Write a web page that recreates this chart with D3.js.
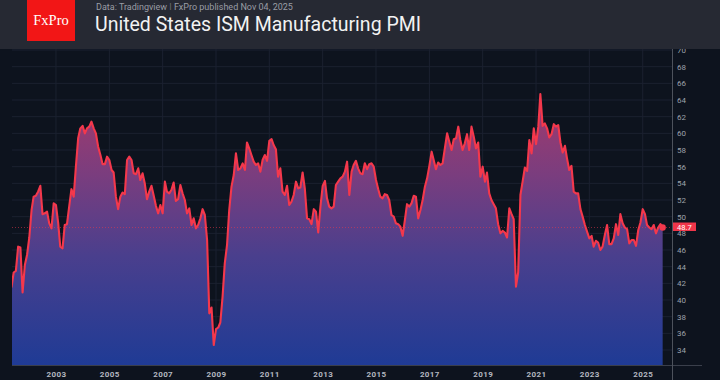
<!DOCTYPE html>
<html><head><meta charset="utf-8">
<script src="https://cdn.jsdelivr.net/npm/d3@7"></script>
<style>
html,body{margin:0;padding:0;background:#0d131e;}
svg{display:block;}
</style></head><body>
<svg id="chart" width="720" height="380"></svg>
<script>
// ---- data ----
const startYear = 2001, startMonthIndex = 4; // first value = May 2001
const pmiValues = [
  41.5, 43.3, 43.5, 46.4, 46.3, 40.9, 44.2, 45.4,                         // 2001 May-Dec
  47.5, 50.8, 52.4, 52.5, 53.0, 53.7, 50.3, 50.4, 50.6, 49.2, 48.6, 51.6, // 2002
  51.4, 49.2, 46.4, 46.2, 49.0, 49.1, 51.2, 53.3, 52.4, 56.0, 59.4, 60.6, // 2003
  60.9, 60.0, 60.6, 60.8, 61.4, 60.6, 60.0, 58.4, 57.4, 56.3, 56.3, 57.2, // 2004
  56.8, 55.6, 55.3, 52.4, 50.9, 52.4, 52.9, 52.7, 56.8, 57.2, 56.8, 55.2, // 2005
  55.1, 55.8, 54.4, 55.2, 54.0, 52.1, 53.0, 53.7, 52.5, 51.3, 50.4, 51.4, // 2006
  50.4, 54.2, 53.0, 52.8, 53.2, 54.1, 51.9, 52.1, 53.8, 52.8, 52.0, 50.4, // 2007
  51.0, 49.0, 49.8, 48.6, 49.0, 49.8, 50.9, 50.2, 47.2, 38.4, 39.1, 34.6, // 2008
  36.5, 36.7, 37.3, 40.4, 44.4, 46.6, 50.8, 53.6, 55.0, 57.6, 55.6, 55.8, // 2009
  56.4, 55.6, 58.9, 58.2, 57.4, 56.6, 56.2, 56.4, 55.4, 56.8, 57.4, 56.7, // 2010
  59.1, 59.3, 58.6, 58.1, 54.8, 55.8, 53.0, 52.6, 53.7, 51.4, 51.8, 52.6, // 2011
  54.2, 53.4, 53.5, 55.3, 53.4, 49.8, 49.7, 49.1, 50.9, 50.6, 48.1, 51.2, // 2012
  53.7, 54.3, 52.2, 51.2, 51.0, 51.2, 53.8, 54.2, 54.6, 54.8, 55.4, 56.6, // 2013
  52.6, 55.4, 56.2, 56.7, 55.8, 55.2, 55.1, 56.4, 55.7, 56.3, 56.4, 56.0, // 2014
  54.4, 53.3, 52.4, 52.2, 52.7, 52.6, 52.0, 50.2, 50.0, 49.2, 49.1, 48.8, // 2015
  47.7, 49.6, 51.5, 51.2, 51.6, 52.5, 52.4, 49.8, 50.8, 52.0, 53.6, 54.6, // 2016
  56.1, 57.8, 56.8, 55.7, 56.5, 56.2, 56.4, 58.2, 60.0, 59.0, 58.0, 59.3, // 2017
  59.4, 60.8, 59.2, 58.0, 58.8, 59.9, 58.0, 60.8, 59.6, 58.2, 58.9, 54.8, // 2018
  56.0, 54.2, 55.3, 52.8, 52.0, 51.5, 51.0, 49.1, 48.0, 48.3, 48.1, 47.5, // 2019
  51.0, 50.3, 49.7, 41.6, 43.3, 52.6, 54.2, 55.9, 55.5, 59.2, 57.6, 60.6, // 2020
  58.7, 60.8, 64.7, 60.9, 61.2, 60.6, 59.5, 59.9, 61.1, 60.8, 61.0, 58.9, // 2021
  57.7, 58.5, 57.0, 55.6, 56.1, 53.0, 52.8, 52.8, 50.9, 50.0, 49.0, 48.2, // 2022
  47.4, 47.7, 46.4, 47.1, 46.9, 46.0, 46.4, 47.8, 49.0, 46.7, 46.7, 47.4, // 2023
  49.1, 47.8, 50.3, 49.2, 48.7, 48.5, 46.8, 47.2, 47.2, 46.5, 48.4, 49.3, // 2024
  50.9, 50.3, 49.0, 48.7, 48.5, 49.0, 48.0, 48.7, 49.1, 48.7              // 2025 Jan-Oct
];
const yTicks = [34, 36, 38, 40, 42, 44, 46, 48, 50, 52, 54, 56, 58, 60, 62, 64, 66, 68, 70];
const xTickYears = [2003, 2005, 2007, 2009, 2011, 2013, 2015, 2017, 2019, 2021, 2023, 2025];
const titleText = "United States ISM Manufacturing PMI";
const sourceText = "Data: Tradingview";
const publishedText = "FxPro published Nov 04, 2025";
const logoText = "FxPro";

// ---- build ----
const W = 720, H = 380;
const headerH = 49;
const plot = {left: 12, right: 672, top: headerH, bottom: 365};

const data = pmiValues.map((v, i) => ({date: new Date(startYear, startMonthIndex + i, 1), v}));
const last = data[data.length - 1];

const x = d3.scaleTime()
  .domain([new Date(2001, 4, 9), new Date(2026, 1, 6)])
  .range([plot.left, plot.right]);
const y = d3.scaleLinear().domain([34, 70]).range([350, 50]);

const svg = d3.select("#chart");
const defs = svg.append("defs");
defs.append("clipPath").attr("id", "clip")
  .append("rect").attr("x", plot.left).attr("y", plot.top)
  .attr("width", plot.right - plot.left).attr("height", plot.bottom - plot.top);

const grad = defs.append("linearGradient").attr("id", "areaGrad")
  .attr("gradientUnits", "userSpaceOnUse")
  .attr("x1", 0).attr("x2", 0).attr("y1", y(65)).attr("y2", plot.bottom);
[[0, "#a53a6a"], [0.3, "#7b3d7e"], [0.6, "#4a3f8d"], [1, "#1f3b95"]].forEach(([o, c]) =>
  grad.append("stop").attr("offset", o).attr("stop-color", c));

svg.append("rect").attr("width", W).attr("height", H).attr("fill", "#0d131e");

// grid
const grid = svg.append("g");
grid.selectAll("line.h").data(yTicks).join("line")
  .attr("x1", plot.left).attr("x2", plot.right)
  .attr("y1", d => y(d)).attr("y2", d => y(d))
  .attr("stroke", "#1b2130").attr("stroke-width", 1);
grid.selectAll("line.v").data(xTickYears).join("line")
  .attr("x1", d => x(new Date(d, 0, 1))).attr("x2", d => x(new Date(d, 0, 1)))
  .attr("y1", plot.top).attr("y2", plot.bottom)
  .attr("stroke", "#1b2130").attr("stroke-width", 1);

const g = svg.append("g").attr("clip-path", "url(#clip)");
g.append("path").datum(data)
  .attr("d", d3.area().x(d => x(d.date)).y0(plot.bottom).y1(d => y(d.v)))
  .attr("fill", "url(#areaGrad)");

// last value dotted line
g.append("line")
  .attr("x1", plot.left).attr("x2", plot.right)
  .attr("y1", y(last.v)).attr("y2", y(last.v))
  .attr("stroke", "#e8364a").attr("stroke-opacity", 0.55)
  .attr("stroke-dasharray", "1,2");

g.append("path").datum(data)
  .attr("d", d3.line().x(d => x(d.date)).y(d => y(d.v)))
  .attr("fill", "none").attr("stroke", "#f4384c").attr("stroke-width", 2.1)
  .attr("stroke-linejoin", "round");

g.append("circle").attr("cx", x(last.date)).attr("cy", y(last.v)).attr("r", 3.2)
  .attr("fill", "#f4384c");

// axes
const yAxis = svg.append("g").attr("transform", `translate(${plot.right},0)`)
  .call(d3.axisRight(y).tickValues(yTicks).tickSize(0).tickPadding(5).tickFormat(d3.format("d")));
yAxis.select(".domain").remove();
yAxis.selectAll("text").attr("fill", "#9ea2aa").style("font-family", "Roboto, sans-serif")
  .style("font-size", "8px");

const xAxis = svg.append("g").attr("transform", `translate(0,${plot.bottom})`)
  .call(d3.axisBottom(x).tickValues(xTickYears.map(yr => new Date(yr, 0, 1)))
    .tickSize(0).tickPadding(6).tickFormat(d3.timeFormat("%Y")));
xAxis.select(".domain").remove();
xAxis.selectAll("text").attr("fill", "#b4b8c0").style("font-family", "Roboto, sans-serif")
  .style("font-size", "8px").style("font-weight", "bold").style("letter-spacing", "0.4px");

svg.append("line").attr("x1", plot.left).attr("x2", 702)
  .attr("y1", plot.bottom + 0.5).attr("y2", plot.bottom + 0.5).attr("stroke", "#3a3f4b");
svg.append("line").attr("x1", plot.right + 0.5).attr("x2", plot.right + 0.5)
  .attr("y1", plot.top).attr("y2", H).attr("stroke", "#4d525c");

// last value label
const lbl = svg.append("g").attr("transform", `translate(${plot.right + 1},${y(last.v) - 0.5})`);
lbl.append("rect").attr("x", 0).attr("y", -4.5).attr("width", 23).attr("height", 8.5).attr("fill", "#f0364a");
lbl.append("text").attr("x", 4).attr("y", 2.6).text(d3.format(".1f")(last.v))
  .attr("fill", "#ffffff").style("font-family", "Roboto, sans-serif").style("font-size", "7.5px");

// header
svg.append("rect").attr("width", W).attr("height", headerH).attr("fill", "#262933");
svg.append("rect").attr("x", 27).attr("y", 0).attr("width", 48).attr("height", 41).attr("fill", "#f21616");
svg.append("text").attr("x", 51).attr("y", 25).attr("text-anchor", "middle").text(logoText)
  .attr("fill", "#ffffff").style("font-family", "'Liberation Serif', serif").style("font-size", "14.5px");

const sub = svg.append("text").attr("x", 96).attr("y", 9.5)
  .style("font-family", "Roboto, sans-serif").style("font-size", "9px").attr("fill", "#9a9da5");
sub.append("tspan").text(sourceText);
sub.append("tspan").text(" ǀ ").attr("fill", "#6c6f77");
sub.append("tspan").text(publishedText);

svg.append("text").attr("x", 95).attr("y", 31).text(titleText)
  .attr("fill", "#f2f2f2").style("font-family", "Roboto, sans-serif").style("font-size", "19.5px");
</script>
</body></html>
